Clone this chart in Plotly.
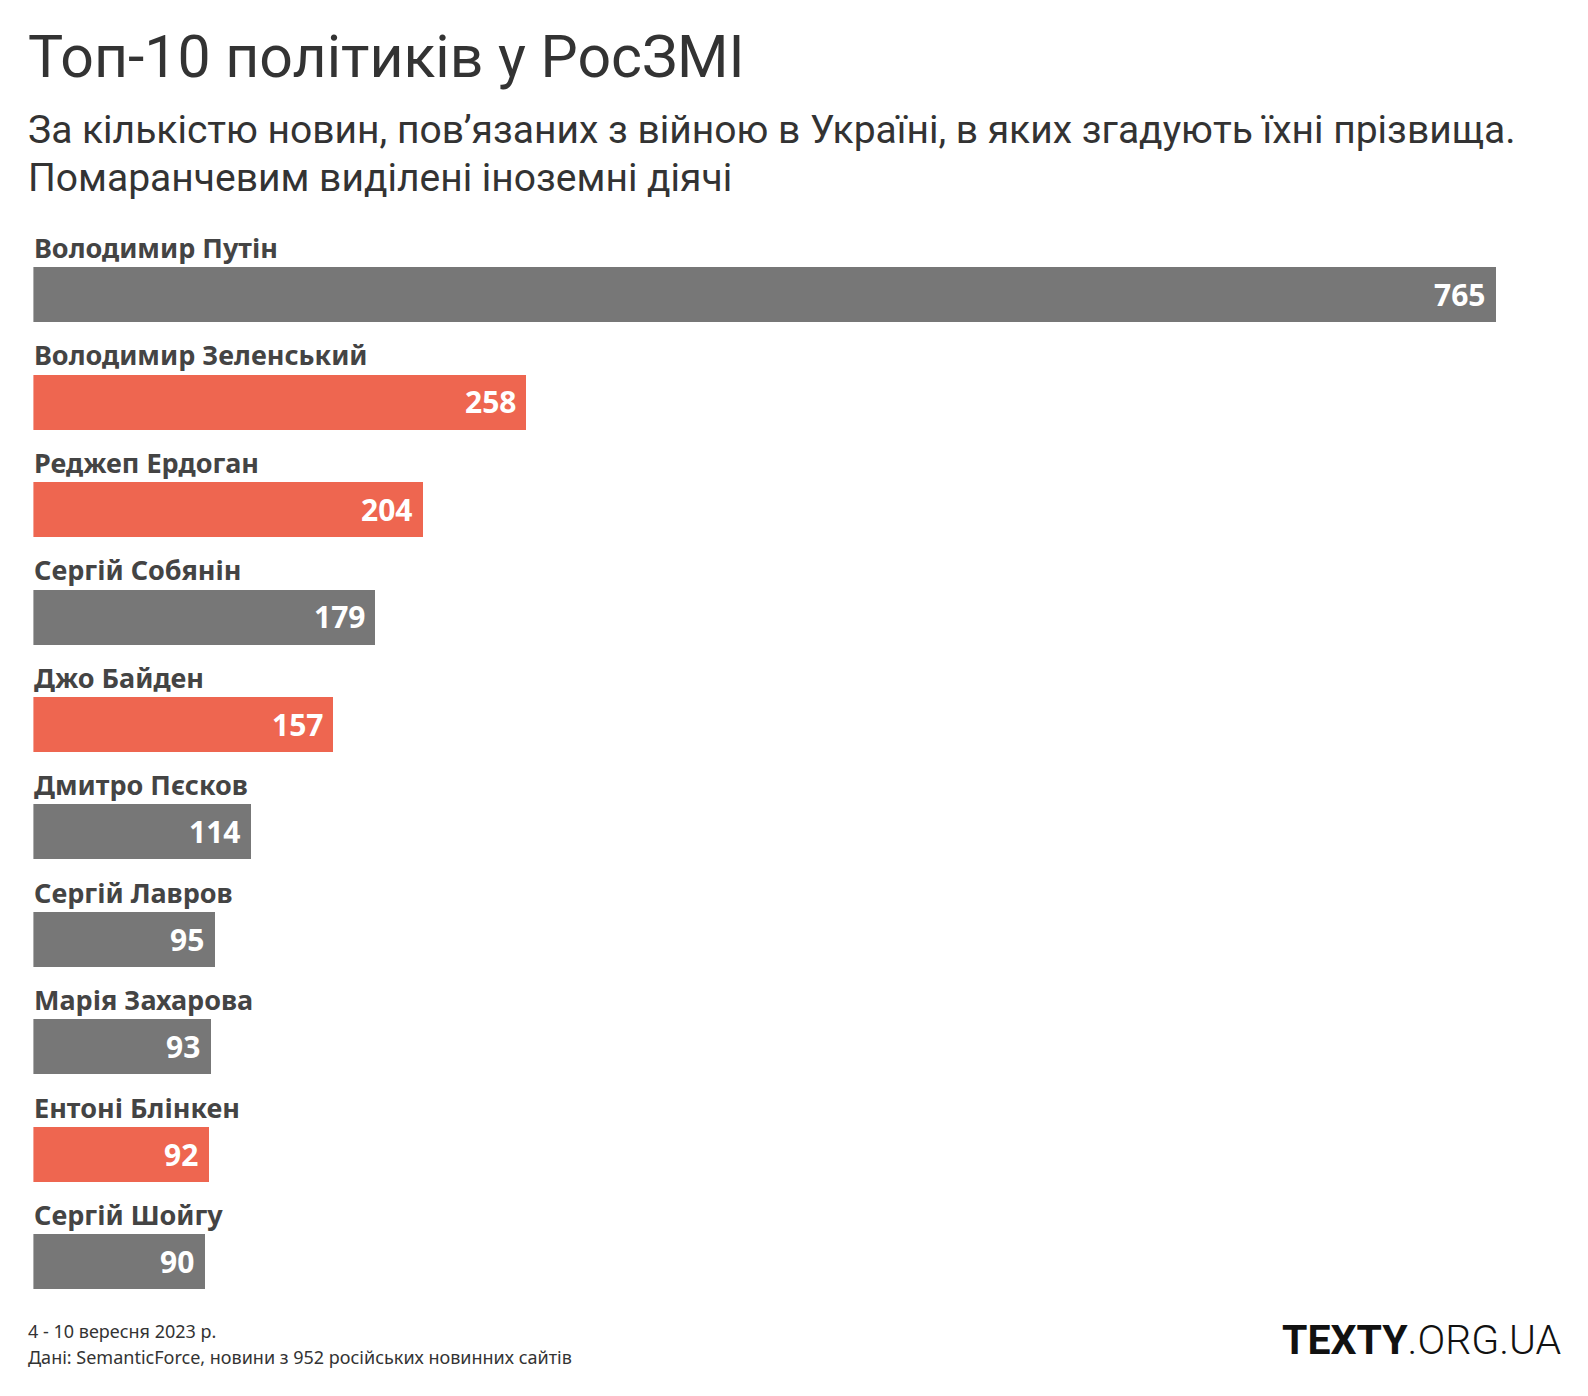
import plotly.graph_objects as go

names = ["Володимир Путін", "Володимир Зеленський", "Реджеп Ердоган", "Сергій Собянін",
         "Джо Байден", "Дмитро Пєсков", "Сергій Лавров", "Марія Захарова",
         "Ентоні Блінкен", "Сергій Шойгу"]
values = [765, 258, 204, 179, 157, 114, 95, 93, 92, 90]
foreign = [False, True, True, False, True, False, False, False, True, False]

GRAY = "#777777"
ORANGE = "#EE6650"
colors = [ORANGE if f else GRAY for f in foreign]
idx = list(range(len(names)))

W, H = 1588, 1396
OFF = 8  # page body margin


def px(x):
    return (x - OFF) / W


def py(y):
    return 1 - (y - OFF) / H


fig = go.Figure()
fig.add_trace(go.Bar(
    x=values, y=idx, orientation="h", marker=dict(color=colors, line=dict(width=0)),
    width=0.512, hoverinfo="skip", showlegend=False,
))

fig.update_layout(
    width=W, height=H, margin=dict(l=0, r=0, t=0, b=0),
    plot_bgcolor="white", paper_bgcolor="white",
    xaxis=dict(domain=[px(33.4), px(1496)], range=[0, 765], visible=False, fixedrange=True),
    yaxis=dict(domain=[py(1315.2), py(240.8)], range=[9.5, -0.5], visible=False, fixedrange=True),
    bargap=0,
)

ann = []
for i, (n, v) in enumerate(zip(names, values)):
    ann.append(dict(x=0, y=i, xref="x", yref="y", text="<b>%s</b>" % n, showarrow=False,
                    xanchor="left", yanchor="middle", yshift=47, xshift=-1,
                    font=dict(family="Noto Sans", size=27, color="#444444")))
    ann.append(dict(x=v, y=i, xref="x", yref="y", text="<b>%d</b>" % v, showarrow=False,
                    xanchor="right", yanchor="middle", xshift=-9, yshift=0,
                    font=dict(family="Noto Sans", size=30, color="white")))

ann.append(dict(x=px(26), y=py(56), xref="paper", yref="paper", xanchor="left", yanchor="middle",
                text="Топ-10 політиків у РосЗМІ", showarrow=False,
                font=dict(family="Roboto", size=59, color="#333333")))
ann.append(dict(x=px(26), y=py(130), xref="paper", yref="paper", xanchor="left", yanchor="middle",
                text="За кількістю новин, пов’язаних з війною в Україні, в яких згадують їхні прізвища.",
                showarrow=False, font=dict(family="Roboto", size=39, color="#333333")))
ann.append(dict(x=px(26), y=py(178), xref="paper", yref="paper", xanchor="left", yanchor="middle",
                text="Помаранчевим виділені іноземні діячі",
                showarrow=False, font=dict(family="Roboto", size=39, color="#333333")))
ann.append(dict(x=px(26), y=py(1331), xref="paper", yref="paper", xanchor="left", yanchor="middle",
                text="4 - 10 вересня 2023 р.", showarrow=False,
                font=dict(family="Noto Sans", size=18, color="#333333")))
ann.append(dict(x=px(26), y=py(1357), xref="paper", yref="paper", xanchor="left", yanchor="middle",
                text="Дані: SemanticForce, новини з 952 російських новинних сайтів", showarrow=False,
                font=dict(family="Noto Sans", size=18, color="#333333")))
ann.append(dict(x=px(1564), y=py(1340), xref="paper", yref="paper", xanchor="right", yanchor="middle",
                text="<b>TEXTY</b><span style='font-weight:300'>.ORG.UA</span>", showarrow=False,
                font=dict(family="Roboto", size=41, color="#111111")))

fig.update_layout(annotations=ann)
fig.write_html("out.html")
